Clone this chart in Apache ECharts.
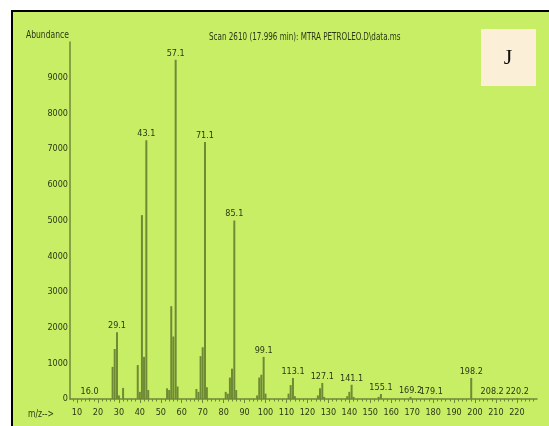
<!DOCTYPE html>
<html>
<head>
<meta charset="utf-8">
<script src="https://cdn.jsdelivr.net/npm/echarts@6/dist/echarts.min.js"></script>
<style>
  html, body { margin: 0; padding: 0; background: #ffffff; }
  #chart { width: 549px; height: 426px; }
</style>
</head>
<body>
<div id="chart"></div>
<script>
// Mass spectrum, scan 2610 — m/z and abundance of each peak
const peakMz = [
  16.0, 27, 28, 29.1, 30, 32,
  39, 40, 41, 42, 43.1, 44,
  53, 54, 55, 56, 57.1, 58,
  67, 68, 69, 70, 71.1, 72,
  81, 82, 83, 84, 85.1, 86,
  96, 97, 98, 99.1, 100,
  111, 112, 113.1, 114,
  125, 126, 127.1, 128,
  139, 140, 141.1, 142,
  154, 155.1, 169.2, 179.1, 198.2, 208.2, 220.2
];
const peakAbundance = [
  30, 900, 1400, 1870, 100, 310,
  950, 200, 5150, 1180, 7250, 250,
  300, 250, 2600, 1750, 9500, 350,
  280, 200, 1200, 1450, 7200, 330,
  200, 150, 600, 850, 5000, 250,
  100, 600, 680, 1180, 150,
  150, 390, 590, 80,
  100, 300, 450, 60,
  80, 200, 400, 60,
  60, 140, 60, 30, 590, 20, 20
];
// Peaks annotated with their m/z
const labeledMz = [16.0, 29.1, 43.1, 57.1, 71.1, 85.1, 99.1, 113.1, 127.1, 141.1, 155.1, 169.2, 179.1, 198.2, 208.2, 220.2];
// Axis tick labels
const mzTicks = [10, 20, 30, 40, 50, 60, 70, 80, 90, 100, 110, 120, 130, 140, 150, 160, 170, 180, 190, 200, 210, 220];
const mzMinorTicks = [];
for (let m = 8; m <= 228; m += 2) mzMinorTicks.push(m);
const abundanceTicks = [0, 1000, 2000, 3000, 4000, 5000, 6000, 7000, 8000, 9000];

const FONT = '"Liberation Sans Narrow", "DejaVu Sans Condensed", "Liberation Sans", sans-serif';
const TEXT = '#2b3815';
const OLIVE = '#70873a';

const seriesData = peakMz.map((m, i) => {
  const item = { value: [m, peakAbundance[i]] };
  if (labeledMz.includes(m)) {
    item.label = { show: true, formatter: m.toFixed(1) };
  }
  return item;
});

const chart = echarts.init(document.getElementById('chart'), null, { renderer: 'canvas' });
chart.setOption({
  backgroundColor: '#c8ee66',
  animation: false,
  grid: { left: 70, right: 12, top: 42, bottom: 27, containLabel: false },
  xAxis: [
    {
      type: 'value', min: 6.66, max: 229.6,
      axisLine: { show: true, lineStyle: { color: OLIVE, width: 1.5 } },
      axisTick: { show: true, length: 4, customValues: mzTicks, lineStyle: { color: OLIVE } },
      axisLabel: { customValues: mzTicks, margin: 9, fontSize: 9, fontFamily: FONT, color: TEXT },
      splitLine: { show: false }
    },
    {
      type: 'value', min: 6.66, max: 229.6, gridIndex: 0, position: 'bottom',
      axisLine: { show: false },
      axisTick: { show: true, length: 2.5, customValues: mzMinorTicks, lineStyle: { color: OLIVE } },
      axisLabel: { show: false },
      splitLine: { show: false }
    }
  ],
  yAxis: {
    type: 'value', min: 0, max: 10000,
    axisLine: { show: true, lineStyle: { color: OLIVE, width: 1.5 } },
    axisTick: { show: false },
    axisLabel: {
      customValues: abundanceTicks, margin: 2, fontSize: 9, fontFamily: FONT, color: TEXT,
      formatter: (v) => String(v)
    },
    splitLine: { show: false }
  },
  series: [{
    type: 'bar',
    xAxisIndex: 0,
    barWidth: 2,
    itemStyle: { color: '#6f8a35' },
    label: { show: false, position: 'top', distance: 2, fontSize: 9, fontFamily: FONT, color: TEXT },
    data: seriesData
  }],
  graphic: [
    { type: 'rect', shape: { x: 0, y: 0, width: 549, height: 10 }, style: { fill: '#ffffff' }, silent: true },
    { type: 'rect', shape: { x: 0, y: 0, width: 11, height: 426 }, style: { fill: '#ffffff' }, silent: true },
    { type: 'rect', shape: { x: 11, y: 10, width: 538, height: 2 }, style: { fill: '#000000' }, silent: true },
    { type: 'rect', shape: { x: 11, y: 10, width: 2, height: 416 }, style: { fill: '#000000' }, silent: true },
    { type: 'text', x: 69, y: 35, scaleX: 0.85, style: { text: 'Abundance', font: '10px ' + FONT, fill: TEXT, align: 'right', verticalAlign: 'middle' } },
    { type: 'text', x: 209, y: 37, scaleX: 0.8, style: { text: 'Scan 2610 (17.996 min): MTRA PETROLEO.D\\data.ms', font: '10px ' + FONT, fill: TEXT, align: 'left', verticalAlign: 'middle' } },
    { type: 'text', x: 28, y: 414, scaleX: 0.85, style: { text: 'm/z-->', font: '10px ' + FONT, fill: TEXT, align: 'left', verticalAlign: 'middle' } },
    { type: 'rect', shape: { x: 481, y: 29, width: 55, height: 57 }, style: { fill: '#fcefd8' }, silent: true },
    { type: 'text', x: 508, y: 58, style: { text: 'J', font: '22px "Liberation Serif", "DejaVu Serif", serif', fill: '#111111', align: 'center', verticalAlign: 'middle' } }
  ]
});
</script>
</body>
</html>
